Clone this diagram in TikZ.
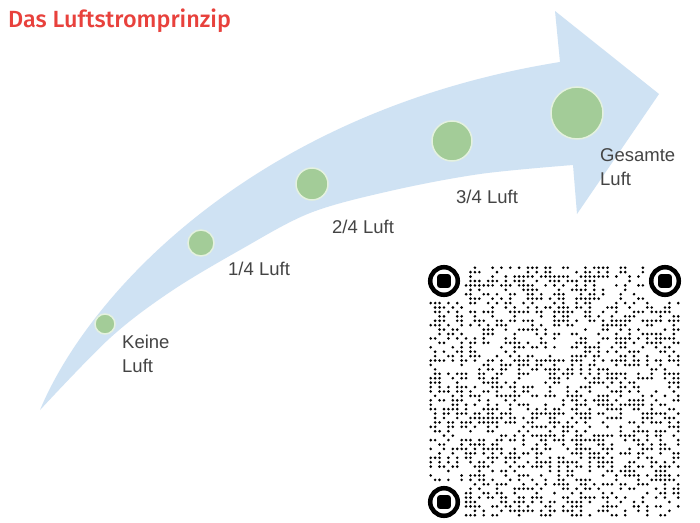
\documentclass[tikz,border=0pt]{standalone}
\usepackage{fontspec}
\setmainfont{Liberation Sans}
\newfontfamily\titlefont{Fira Sans Medium}
\definecolor{arrowblue}{HTML}{CFE2F3}
\definecolor{dotgreen}{HTML}{A3CC98}
\definecolor{dotrim}{HTML}{E4F1DF}
\definecolor{labelgray}{HTML}{444444}
\definecolor{titlered}{HTML}{E8413C}
\begin{document}
\begin{tikzpicture}[x=1pt,y=-1pt,
  airdot/.style={circle, fill=dotgreen, draw=dotrim, line width=1.5pt, inner sep=0pt, minimum size=#1},
  lbl/.style={font=\fontsize{18.5}{24}\selectfont, text=labelgray, inner sep=0pt, anchor=north west, align=left},
  finderring/.style={draw=black, line width=4.5pt},
  finderbox/.style={fill=black, rounded corners=2.5pt}]
\useasboundingbox[fill=white] (0,0) rectangle (700,522);

% curved arrow
\fill[arrowblue] (40,410) .. controls (90,290) and (260,110) .. (560,62)
  -- (555,11) -- (659,94) -- (577,214) -- (573,165)
  -- plot[smooth, tension=0.55] coordinates {(573,165) (480,174) (390,191) (310,213) (240,250) (170,292) (110,338) (40,410)}
  -- cycle;

% title
\node[font=\titlefont\fontsize{23.4}{28}\selectfont, text=titlered, anchor=base west, inner sep=0pt] (title) at (8,27) {Das Luftstromprinzip};

% air dots
\node[airdot=20pt] (d0) at (105,324) {};
\node[airdot=26pt] (d1) at (201,243) {};
\node[airdot=32pt] (d2) at (312,184) {};
\node[airdot=40pt] (d3) at (452,141) {};
\node[airdot=52pt] (d4) at (577,113) {};

% labels
\node[lbl] (l0) at (122,334.5) {Keine\\Luft};
\node[lbl] (l1) at (228,261.5) {1/4 Luft};
\node[lbl] (l2) at (332,219.5) {2/4 Luft};
\node[lbl] (l3) at (456,189.5) {3/4 Luft};
\node[lbl] (l4) at (600,148.5) {Gesamte\\Luft};

% QR code
\begin{scope}[shift={(428.5,265.5)}]
\pgfmathsetseed{4242}
\foreach \i in {0,...,56}{
  \foreach \j in {0,...,56}{
    \pgfmathtruncatemacro\qskip{((\i<8)&&(\j<8))||((\i>48)&&(\j<8))||((\i<8)&&(\j>48))}
    \pgfmathrandominteger{\qrv}{0}{99}
    \ifnum\qskip=0 \ifnum\qrv<47 \fill ({(\i+0.5)*4.42},{(\j+0.5)*4.42}) circle[radius=1.45]; \fi\fi
  }
}
\end{scope}
\coordinate (f1) at (444,281);
\coordinate (f2) at (665,281);
\coordinate (f3) at (444,502);
\foreach \f in {f1,f2,f3}{
  \draw[finderring] (\f) circle[radius=13.8];
  \fill[finderbox] (\f) ++(-6.8,-6.8) rectangle ++(13.6,13.6);
}
\end{tikzpicture}
\end{document}
